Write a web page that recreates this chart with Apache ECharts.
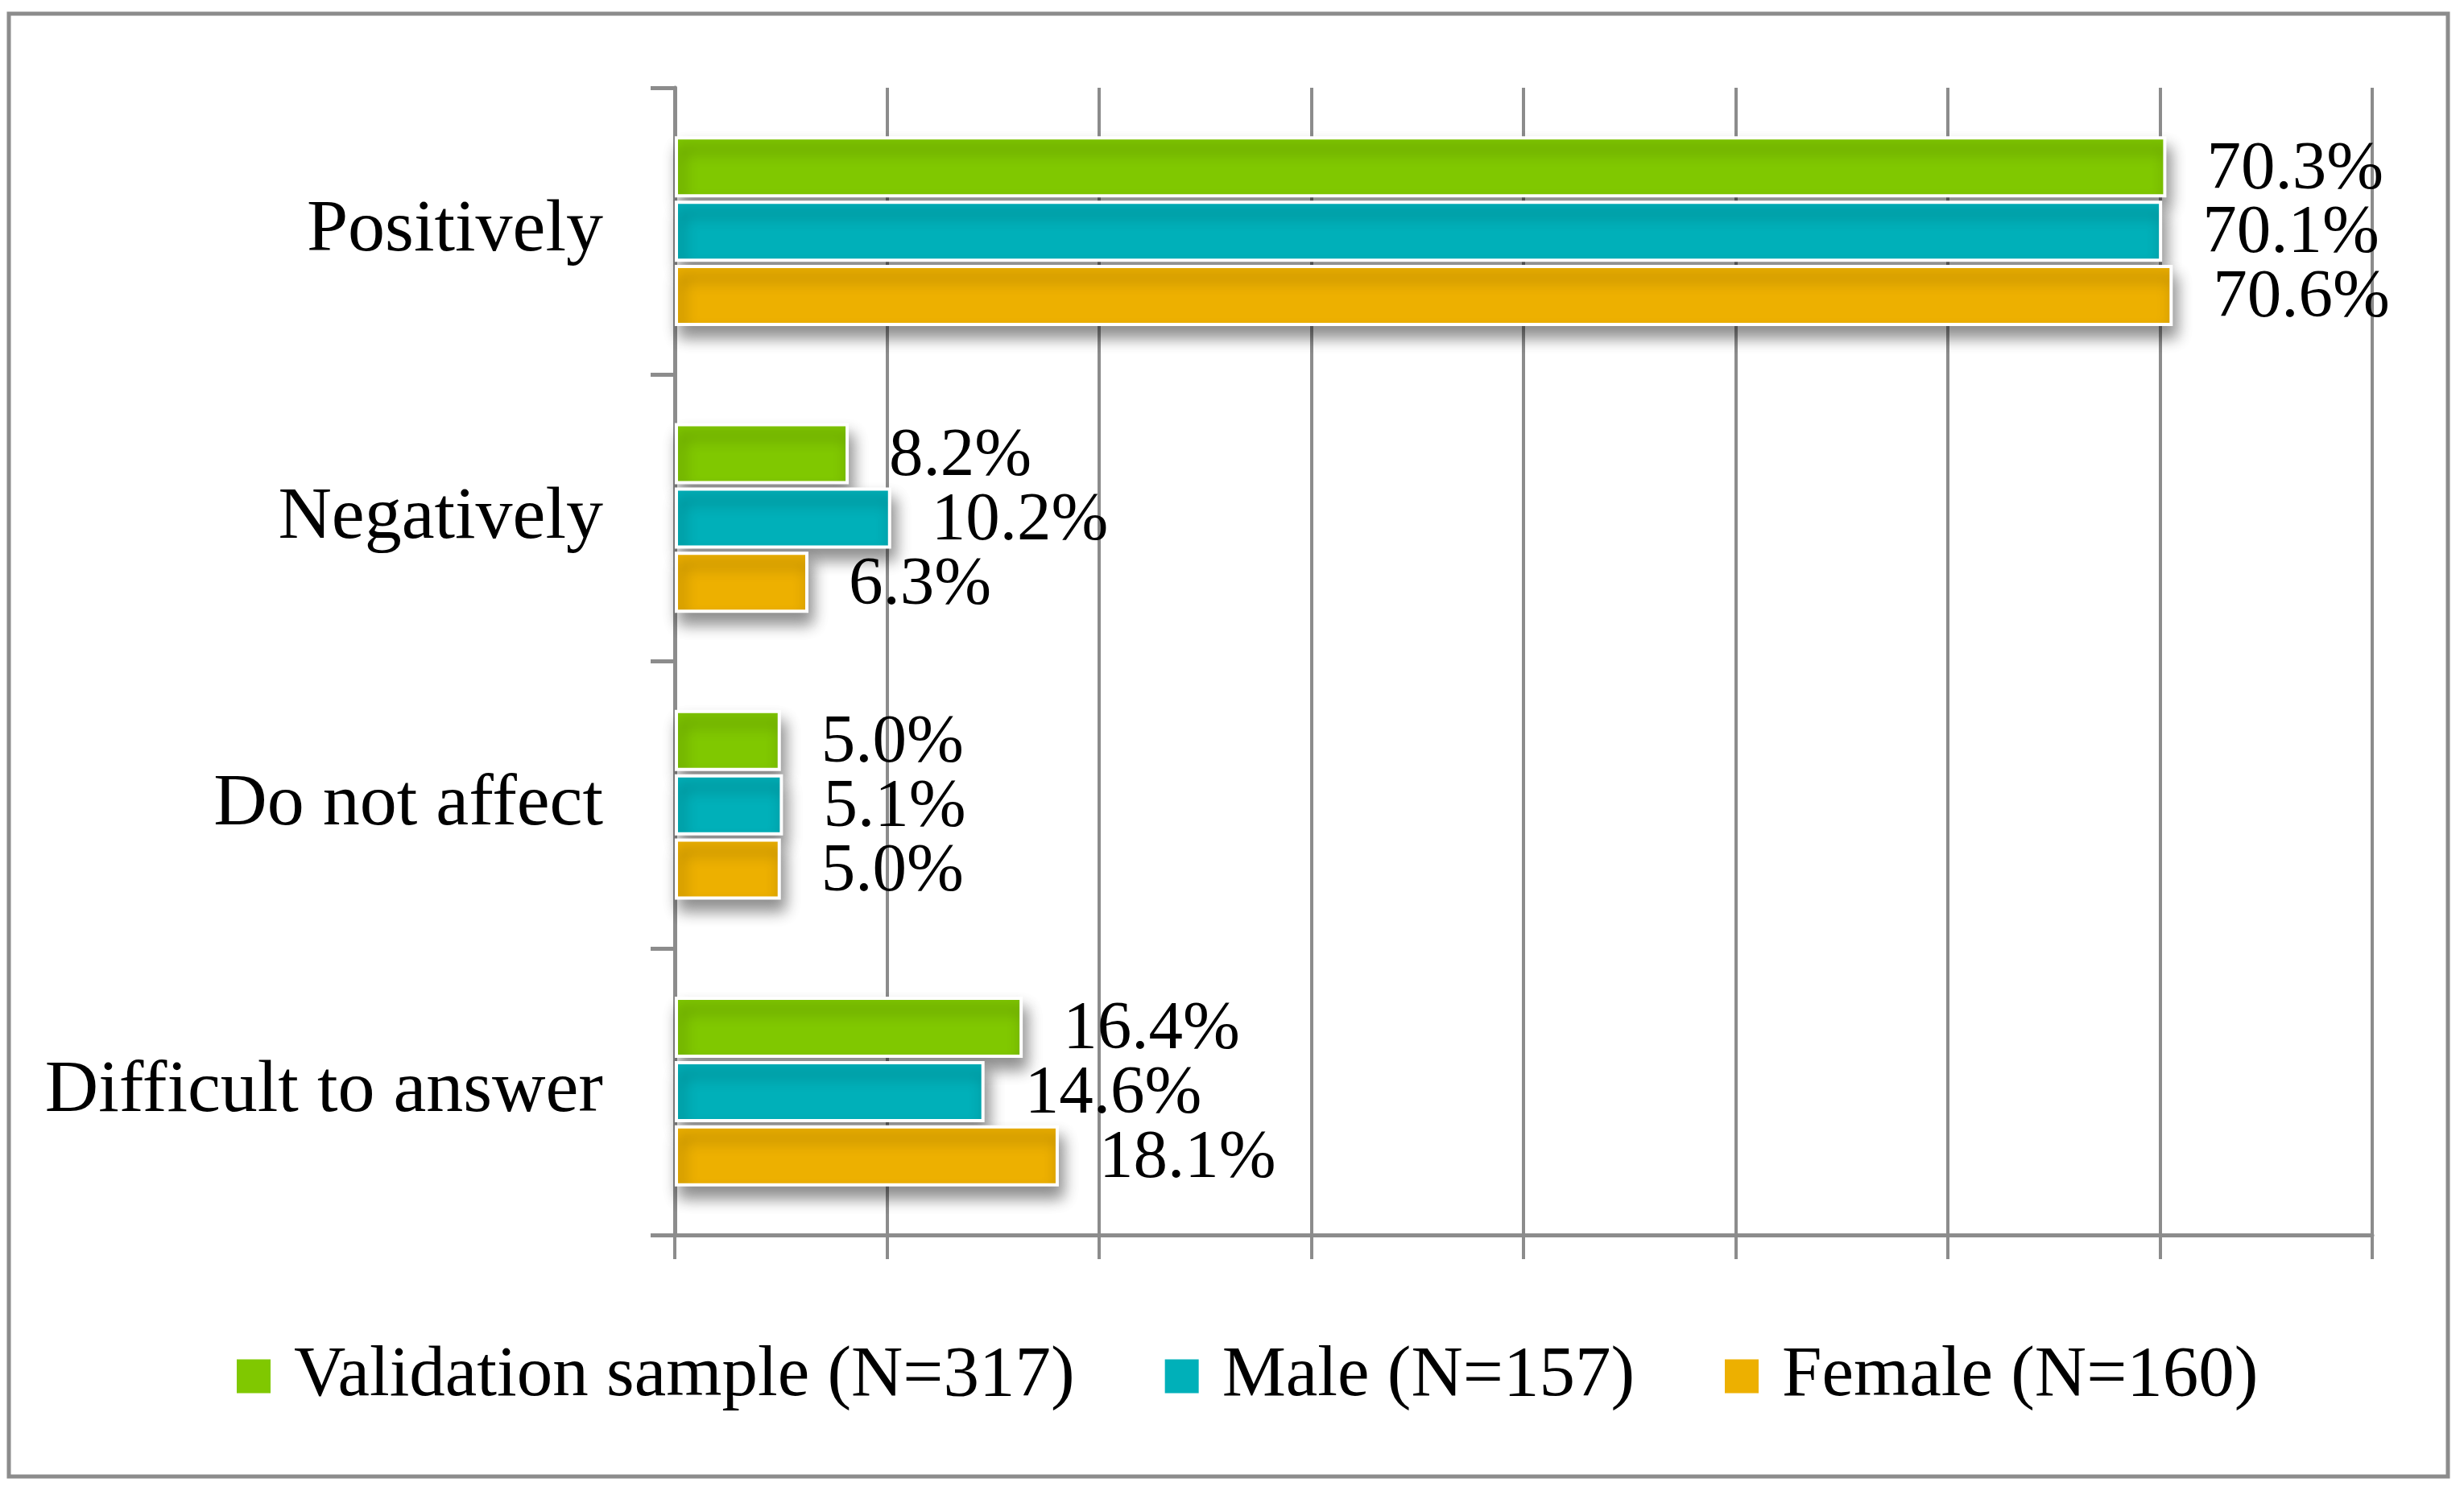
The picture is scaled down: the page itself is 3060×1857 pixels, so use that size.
<!DOCTYPE html>
<html>
<head>
<meta charset="utf-8">
<script src="https://cdn.jsdelivr.net/npm/echarts@6/dist/echarts.min.js"></script>
<style>
html,body{margin:0;padding:0;background:#fff;}
#chart{width:3060px;height:1857px;}
</style>
</head>
<body>
<div id="chart"></div>
<script>
const categories = ['Positively', 'Negatively', 'Do not affect', 'Difficult to answer'];
const seriesNames = ['Validation sample (N=317)', 'Male (N=157)', 'Female (N=160)'];
const validationValues = [70.3, 8.2, 5.0, 16.4];
const maleValues = [70.1, 10.2, 5.1, 14.6];
const femaleValues = [70.6, 6.3, 5.0, 18.1];
const seriesColors = ['#80C800', '#00B0B9', '#EDB000'];

const FONT = '"Liberation Serif", "Times New Roman", serif';
const GRAY = '#8c8c8c';

const chart = echarts.init(document.getElementById('chart'), null, {renderer: 'canvas'});

function makeSeries(name, data, color) {
  return {
    name: name,
    type: 'bar',
    data: data,
    barWidth: 76,
    barGap: '5%',
    itemStyle: {
      color: color,
      borderColor: '#ffffff',
      borderWidth: 4,
      shadowColor: 'rgba(0,0,0,0.45)',
      shadowBlur: 18,
      shadowOffsetX: 5,
      shadowOffsetY: 14
    },
    label: {
      show: true,
      position: 'right',
      distance: 50,
      offset: [0, 4],
      color: '#000',
      fontFamily: FONT,
      fontSize: 85,
      formatter: p => p.value.toFixed(1) + '%'
    },
    emphasis: {disabled: true}
  };
}

const option = {
  animation: false,
  backgroundColor: '#ffffff',
  graphic: [{
    type: 'rect',
    shape: {x: 11, y: 17, width: 3029, height: 1817},
    style: {fill: 'none', stroke: GRAY, lineWidth: 5},
    z: -1
  }],
  grid: {left: 838, right: 114, top: 109, bottom: 323, containLabel: false},
  legend: {
    left: 287,
    top: 1660,
    itemWidth: 44,
    itemHeight: 44,
    itemGap: 110,
    icon: 'rect',
    data: seriesNames,
    textStyle: {
      fontFamily: FONT,
      fontSize: 89,
      color: '#000',
      lineHeight: 89,
      padding: [0, 0, 0, 23]
    }
  },
  xAxis: {
    type: 'value',
    min: 0,
    max: 80,
    interval: 10,
    axisLine: {show: true, lineStyle: {color: GRAY, width: 5}},
    axisTick: {show: true, length: 30, lineStyle: {color: GRAY, width: 4}},
    axisLabel: {show: false},
    splitLine: {show: true, lineStyle: {color: GRAY, width: 4}}
  },
  yAxis: {
    type: 'category',
    data: categories,
    inverse: true,
    axisLine: {show: true, lineStyle: {color: GRAY, width: 5}},
    axisTick: {show: true, length: 30, lineStyle: {color: GRAY, width: 5}},
    axisLabel: {
      margin: 89,
      color: '#000',
      fontFamily: FONT,
      fontSize: 92
    },
    splitLine: {show: false}
  },
  series: [
    makeSeries(seriesNames[0], validationValues, seriesColors[0]),
    makeSeries(seriesNames[1], maleValues, seriesColors[1]),
    makeSeries(seriesNames[2], femaleValues, seriesColors[2])
  ]
};

chart.setOption(option);
</script>
</body>
</html>
